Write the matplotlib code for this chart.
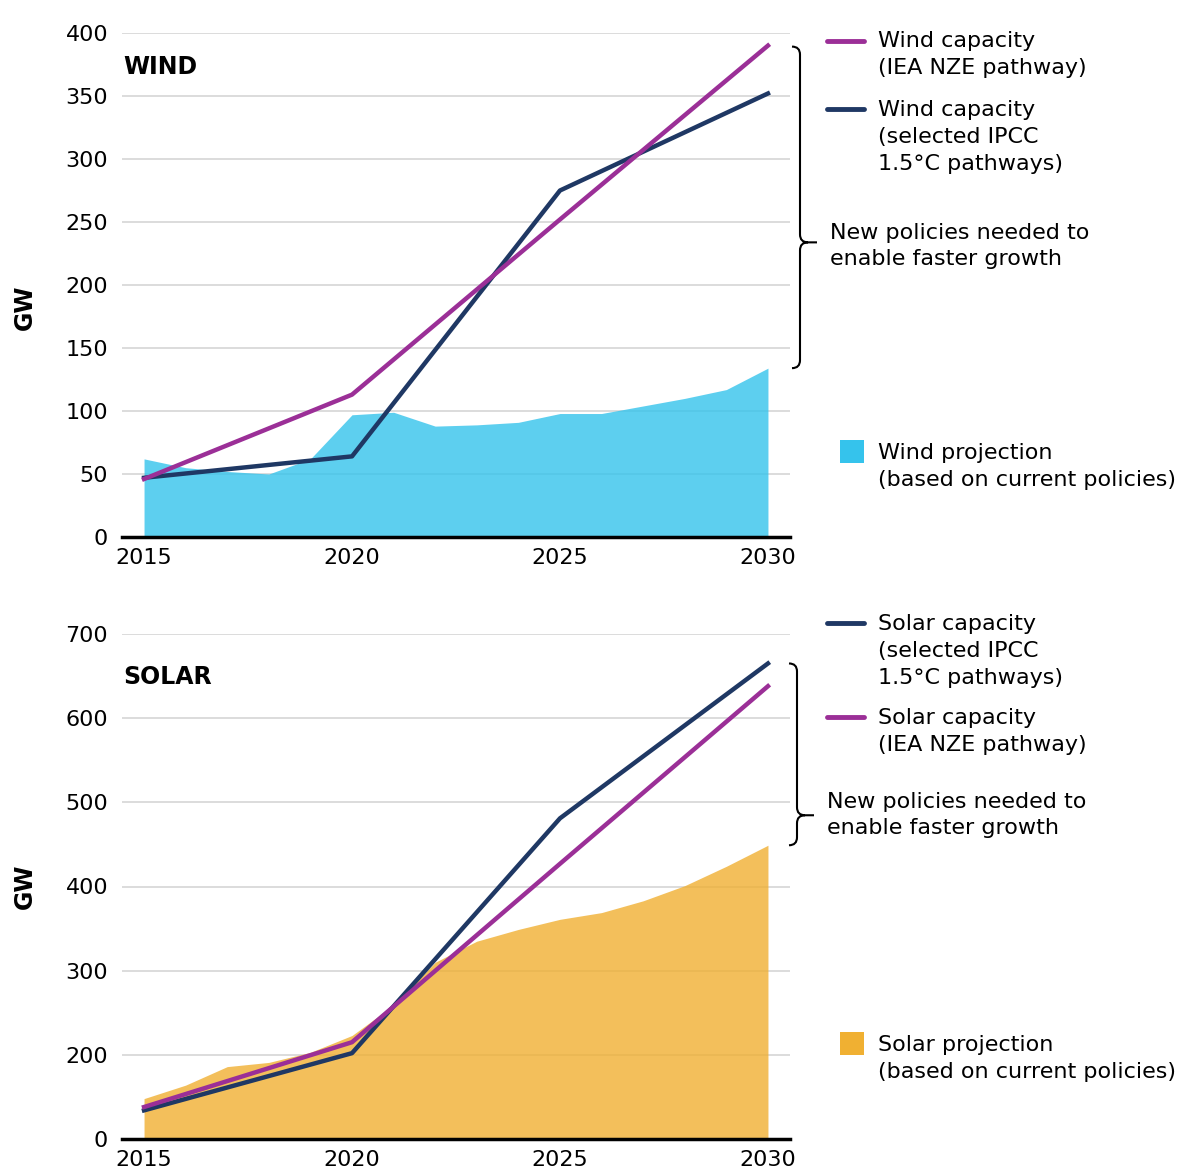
import matplotlib.pyplot as plt
from matplotlib.path import Path
from matplotlib.patches import PathPatch, Rectangle
from matplotlib.lines import Line2D
from matplotlib.transforms import IdentityTransform

plt.rcParams['font.family'] = ['DejaVu Sans']

# ---- data (GW) ----
years = list(range(2015, 2031))
wind_projection = [62, 55, 52, 50, 62, 97, 99, 88, 89, 91, 98, 98, 104, 110, 117, 134]
wind_nze_years = [2015, 2020, 2025, 2030]
wind_nze = [46, 113, 252, 390]
wind_ipcc_years = [2015, 2020, 2025, 2030]
wind_ipcc = [47, 64, 275, 352]

solar_projection = [148, 164, 186, 191, 203, 223, 259, 310, 335, 349, 361, 369, 383, 401, 424, 449]
solar_ipcc_years = [2015, 2020, 2025, 2030]
solar_ipcc = [134, 202, 481, 665]
solar_nze_years = [2015, 2020, 2025, 2030]
solar_nze = [138, 215, 427, 638]

wind_ticks = [0, 50, 100, 150, 200, 250, 300, 350, 400]
solar_ticks = [100, 200, 300, 400, 500, 600, 700]
solar_tick_labels = ['0', '200', '300', '400', '500', '600', '700']
x_ticks = [2015, 2020, 2025, 2030]

MAGENTA = '#9b2f97'
NAVY = '#1f3864'
CYAN = '#35c3ec'
ORANGE = '#f0b032'
GRID = '#d9d9d9'
FS = 16

W, H = 1187, 1169
fig = plt.figure(figsize=(W / 100, H / 100), dpi=100)


def px(x, y):
	"""image pixel (top-left origin) -> figure fraction"""
	return x / W, 1 - y / H


def style_axes(ax, ticks, labels, ymin, ymax, label_y):
	ax.set_xlim(2014.47, 2030.53)
	ax.set_ylim(ymin, ymax)
	ax.set_yticks(ticks)
	ax.set_yticklabels(labels)
	ax.set_xticks(x_ticks)
	ax.tick_params(length=0, labelsize=FS, pad=8)
	ax.tick_params(axis='y', pad=10)
	for s in ['top', 'right', 'left']:
		ax.spines[s].set_visible(False)
	ax.spines['bottom'].set_linewidth(2.5)
	ax.spines['bottom'].set_zorder(5)
	ax.grid(axis='y', color=GRID, lw=1.3)
	ax.set_axisbelow(True)
	ax.set_ylabel('GW', fontsize=17, fontweight='bold')
	ax.yaxis.set_label_coords(-0.128, label_y)


def brace(x, y_top, y_bot, y_mid, r=8, tip=17):
	# pixel coords, y downwards
	H2 = fig.bbox.height
	pts = [(x - r, y_top), (x, y_top), (x, y_top + r),
	       (x, y_mid - r), (x, y_mid), (x + r, y_mid),
	       (x + tip, y_mid),
	       (x + r, y_mid), (x, y_mid), (x, y_mid + r),
	       (x, y_bot - r), (x, y_bot), (x - r, y_bot)]
	codes = [Path.MOVETO, Path.CURVE3, Path.CURVE3,
	         Path.LINETO, Path.CURVE3, Path.CURVE3,
	         Path.LINETO,
	         Path.MOVETO, Path.CURVE3, Path.CURVE3,
	         Path.LINETO, Path.CURVE3, Path.CURVE3]
	pts = [(a, H2 - b) for a, b in pts]
	fig.patches.append(PathPatch(Path(pts, codes), fc='none', ec='black', lw=1.5,
	                             transform=IdentityTransform()))


def to_px(ax, x, y):
	a, b = ax.transData.transform((x, y))
	return a, fig.bbox.height - b


def legend_line(x, y, color):
	fig.add_artist(Line2D([x / W, (x + 37) / W], [1 - y / H, 1 - y / H], color=color,
	                      lw=3.5, solid_capstyle='round'))


def legend_text(x, y, s):
	fig.text(x / W, 1 - y / H, s, fontsize=FS, va='top', ha='left', linespacing=1.45)


# ---- wind ----
ax1 = fig.add_axes([122 / W, 1 - 537 / H, 668 / W, 504 / H])
ax1.fill_between(years, wind_projection, color=CYAN, alpha=0.8, lw=0, zorder=2)
ax1.plot(wind_ipcc_years, wind_ipcc, color=NAVY, lw=3.2, zorder=3)
ax1.plot(wind_nze_years, wind_nze, color=MAGENTA, lw=3.2, zorder=4)
style_axes(ax1, wind_ticks, [str(t) for t in wind_ticks], 0, 400, 0.455)
ax1.text(0.002, 0.932, 'WIND', transform=ax1.transAxes, fontsize=17, fontweight='bold',
         va='center', ha='left')

# ---- solar ----
ax2 = fig.add_axes([122 / W, 1 - 1139 / H, 668 / W, 505 / H])
ax2.fill_between(years, solar_projection, color=ORANGE, alpha=0.8, lw=0, zorder=2)
ax2.plot(solar_ipcc_years, solar_ipcc, color=NAVY, lw=3.2, zorder=3)
ax2.plot(solar_nze_years, solar_nze, color=MAGENTA, lw=3.2, zorder=4)
style_axes(ax2, solar_ticks, solar_tick_labels, 100, 700, 0.5)
ax2.text(0.002, 0.915, 'SOLAR', transform=ax2.transAxes, fontsize=17, fontweight='bold',
         va='center', ha='left')

# ---- legends ----
legend_line(827, 41, MAGENTA)
legend_text(878, 31, 'Wind capacity\n(IEA NZE pathway)')
legend_line(827, 109, NAVY)
legend_text(878, 100, 'Wind capacity\n(selected IPCC\n1.5°C pathways)')
fig.text(830 / W, 1 - 246 / H, 'New policies needed to\nenable faster growth', fontsize=FS,
         va='center', ha='left', linespacing=1.35)
fig.add_artist(Rectangle(px(840, 463), 24 / W, 23 / H, color=CYAN, lw=0))
legend_text(878, 443, 'Wind projection\n(based on current policies)')

legend_line(827, 623, NAVY)
legend_text(878, 614, 'Solar capacity\n(selected IPCC\n1.5°C pathways)')
legend_line(827, 717, MAGENTA)
legend_text(878, 708, 'Solar capacity\n(IEA NZE pathway)')
fig.text(827 / W, 1 - 815 / H, 'New policies needed to\nenable faster growth', fontsize=FS,
         va='center', ha='left', linespacing=1.35)
fig.add_artist(Rectangle(px(840, 1055), 24 / W, 23 / H, color=ORANGE, lw=0))
legend_text(878, 1035, 'Solar projection\n(based on current policies)')

# braces tied to the 2030 values
_, wt = to_px(ax1, 2030, max(wind_nze[-1], wind_ipcc[-1]))
_, wb = to_px(ax1, 2030, wind_projection[-1])
brace(800, wt + 1, wb, wt + 0.61 * (wb - wt))
_, st = to_px(ax2, 2030, max(solar_nze[-1], solar_ipcc[-1]))
_, sb = to_px(ax2, 2030, solar_projection[-1])
brace(797, st, sb, st + 0.835 * (sb - st))

fig.savefig('out.png', dpi=100)
